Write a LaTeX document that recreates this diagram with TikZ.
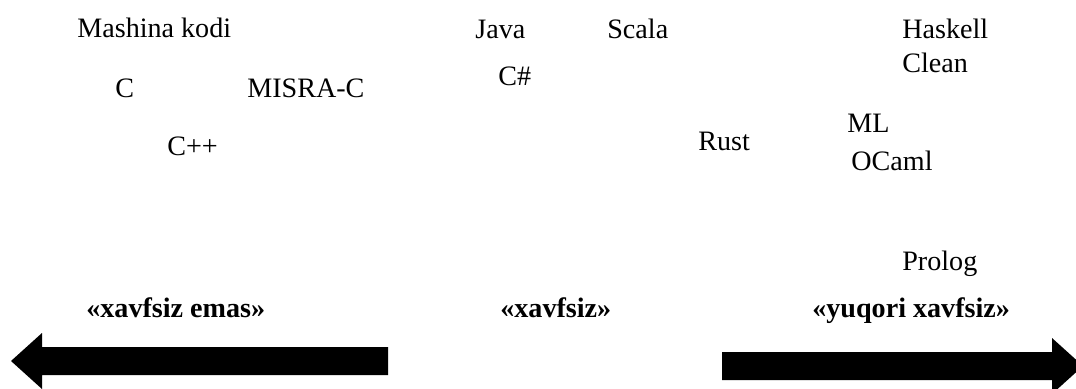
\documentclass[tikz,border=0pt]{standalone}
\usepackage{fontspec}
\setmainfont{Liberation Serif}
\usepackage{tikz}

\begin{document}
\begin{tikzpicture}[x=0.02cm, y=-0.02cm,
    lang/.style={anchor=base west, inner sep=0pt, font=\fontsize{16}{19}\selectfont},
    level/.style={anchor=base west, inner sep=0pt, font=\fontsize{16}{19}\selectfont\bfseries}]
              \useasboundingbox (0,0) rectangle (1076,389);

              \node[lang] (mk) at (77,37) {Mashina kodi};
              \node[lang] (c) at (115,97) {C};
              \node[lang] (misra) at (247,97) {MISRA-C};
              \node[lang] (cpp) at (167,155) {C++};

              \node[lang] (java) at (475,38) {Java};
              \node[lang] (scala) at (607,38) {Scala};
              \node[lang] (csharp) at (498,85) {C\#};
              \node[lang] (rust) at (698,150) {Rust};

              \node[lang] (haskell) at (902,38) {Haskell};
              \node[lang] (clean) at (902,72) {Clean};
              \node[lang] (ml) at (847,132) {ML};
              \node[lang] (ocaml) at (851,170) {OCaml};
              \node[lang] (prolog) at (902,270) {Prolog};

              \node[level] (unsafe) at (86,317) {«xavfsiz emas»};
              \node[level] (safe) at (500,317) {«xavfsiz»};
              \node[level] (high) at (812,317) {«yuqori xavfsiz»};

              % direction arrows
              \fill (11,361) -- (42,333) -- (42,347) -- (388,347) -- (388,375)
                -- (42,375) -- (42,389) -- cycle;
              \fill (1083,366) -- (1052,338) -- (1052,352) -- (722,352) -- (722,380)
                -- (1052,380) -- (1052,394) -- cycle;
            \end{tikzpicture}
\end{document}
